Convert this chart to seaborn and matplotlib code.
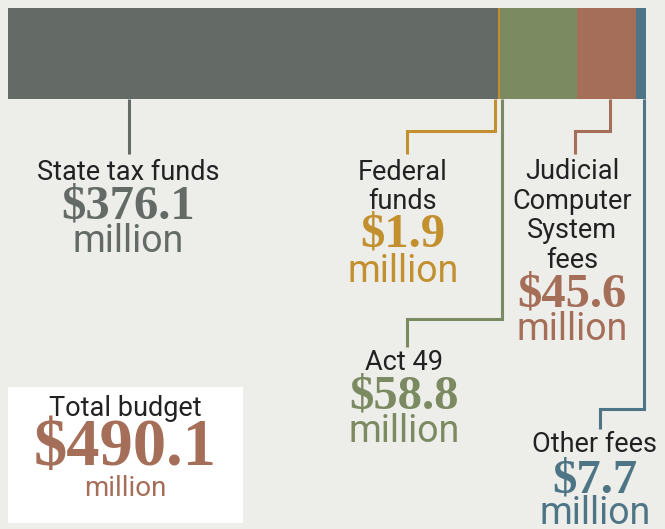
import matplotlib
matplotlib.use("Agg")
import matplotlib.pyplot as plt
import seaborn as sns
import pandas as pd
import numpy as np
from matplotlib.patches import Rectangle

# ---- data ----
categories = ["State tax funds", "Federal funds", "Act 49", "Judicial Computer System fees", "Other fees"]
label_texts = ["State tax funds", "Federal\nfunds", "Act 49", "Judicial\nComputer\nSystem\nfees", "Other fees"]
values = [376.1, 1.9, 58.8, 45.6, 7.7]
value_labels = ["$376.1", "$1.9", "$58.8", "$45.6", "$7.7"]
total_value = 490.1
total_label = "$490.1"

colors = ["#646b66", "#c2902f", "#7b8a61", "#a56e58", "#4e7585"]
BG = "#ededea"
DARK = "#222222"

sns.set_theme(style="white")
plt.rcParams["font.family"] = ["Roboto", "DejaVu Sans"]

W, H = 665, 529
fig = plt.figure(figsize=(W / 100, H / 100), dpi=100)
fig.patch.set_facecolor(BG)

# ---- stacked bar ----
ax = fig.add_axes([8 / W, 1 - 99 / H, 638 / W, 91 / H])
ax.set_facecolor(BG)
cum = np.cumsum(values)
df = pd.DataFrame({"cat": categories, "end": cum, "color": colors})
for i in range(len(df) - 1, -1, -1):
    sns.barplot(x=[df["end"][i]], y=["budget"], color=df["color"][i], width=1.0,
                saturation=1, orient="h", ax=ax, edgecolor="none", linewidth=0)
ax.set_xlim(0, sum(values))
ax.set_ylim(0.5, -0.5)
ax.axis("off")

# ---- annotation overlay in pixel coordinates ----
ov = fig.add_axes([0, 0, 1, 1], zorder=5)
ov.set_xlim(0, W)
ov.set_ylim(H, 0)
ov.axis("off")
ov.patch.set_alpha(0)

lw = 2.2
# leader lines (layout)
leaders = [
    [(129, 99), (129, 154)],
    [(495, 99), (495, 131), (407, 131), (407, 154)],
    [(502, 99), (502, 319), (407, 319), (407, 347)],
    [(610, 99), (610, 131), (575, 131), (575, 154)],
    [(644, 99), (644, 409), (600, 409), (600, 429)],
]
for pts, c in zip(leaders, colors):
    xs, ys = zip(*pts)
    ov.plot(xs, ys, color=c, lw=lw, solid_capstyle="butt", solid_joinstyle="miter")

LABEL_FS = 19.5
NUM_FS = 35
MIL_FS = 27
numfont = dict(family=["Liberation Serif", "DejaVu Serif"], weight="bold")

# (x center, label y center, number y center, million y center)
layout = [
    (128, 172, 206, 241),
    (403, 187, 235, 271),
    (404, 362, 397, 431),
    (572, 216, 295, 330),
    (595, 445, 481, 514),
]
for (x, ly, ny, my), lab, vl, c in zip(layout, label_texts, value_labels, colors):
    ov.text(x, ly, lab, ha="center", va="center", fontsize=LABEL_FS, color=DARK,
            linespacing=1.12)
    ov.text(x, ny, vl, ha="center", va="center", fontsize=NUM_FS, color=c, **numfont)
    ov.text(x, my, "million", ha="center", va="center", fontsize=MIL_FS, color=c)

# total box
ov.add_patch(Rectangle((8, 387), 235, 136, facecolor="white", edgecolor="none"))
ov.text(125, 408, "Total budget", ha="center", va="center", fontsize=LABEL_FS, color=DARK)
ov.text(125, 448, total_label, ha="center", va="center", fontsize=48, color=colors[3], **numfont)
ov.text(125, 488, "million", ha="center", va="center", fontsize=20, color=colors[3])

fig.savefig("out.png", dpi=100, facecolor=BG)
